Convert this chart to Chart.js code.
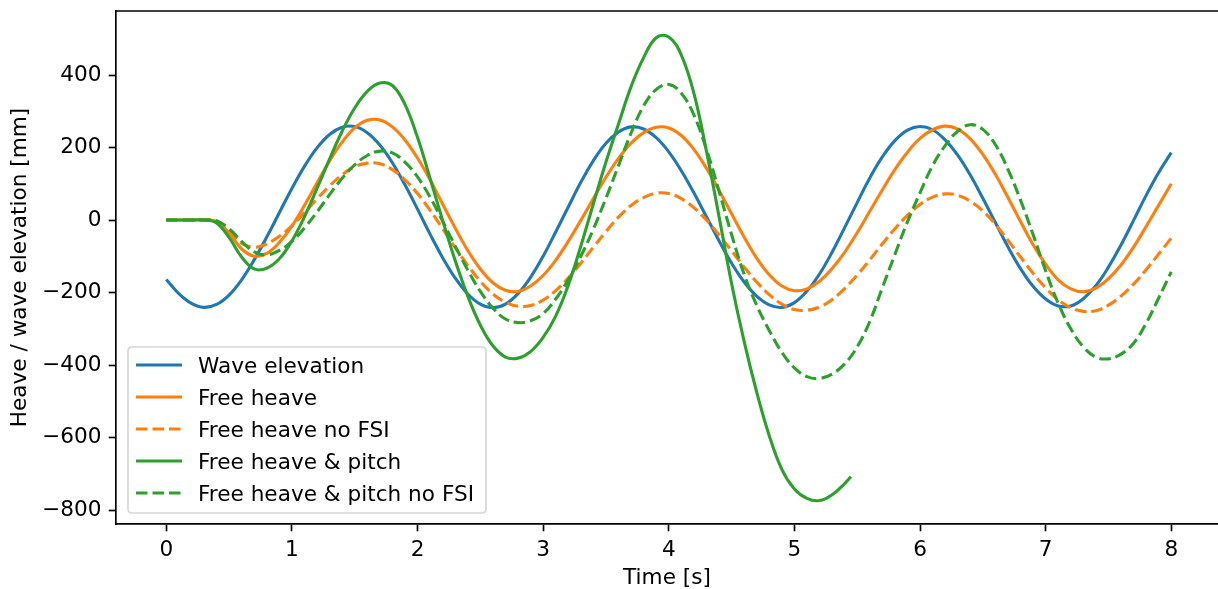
<!DOCTYPE html>
<html><head><meta charset="utf-8">
<script src="https://cdn.jsdelivr.net/npm/chart.js@4.4.1/dist/chart.umd.min.js"></script>
<style>
html,body{margin:0;padding:0;overflow:hidden;background:#fff;width:1218px;height:589px}
#wrap{position:absolute;left:0;top:0;width:1218px;height:589px}
</style>
</head><body><div id="wrap"><canvas id="c" width="1218" height="589"></canvas></div>
<script>
// ---- data ----
const time = [0,0.1,0.2,0.3,0.4,0.5,0.6,0.7,0.8,0.9,1,1.1,1.2,1.3,1.4,1.5,1.6,1.7,1.8,1.9,2,2.1,2.2,2.3,2.4,2.5,2.6,2.7,2.8,2.9,3,3.1,3.2,3.3,3.4,3.5,3.6,3.7,3.8,3.9,4,4.1,4.2,4.3,4.4,4.5,4.6,4.7,4.8,4.9,5,5.1,5.2,5.3,5.4,5.5,5.6,5.7,5.8,5.9,6,6.1,6.2,6.3,6.4,6.5,6.6,6.7,6.8,6.9,7,7.1,7.2,7.3,7.4,7.5,7.6,7.7,7.8,7.9,8];
const timeHeavePitch = [0,0.1,0.2,0.3,0.4,0.5,0.6,0.7,0.8,0.9,1,1.1,1.2,1.3,1.4,1.5,1.6,1.7,1.8,1.9,2,2.1,2.2,2.3,2.4,2.5,2.6,2.7,2.8,2.9,3,3.1,3.2,3.3,3.4,3.5,3.6,3.7,3.8,3.9,4,4.1,4.2,4.3,4.4,4.5,4.6,4.7,4.8,4.9,5,5.1,5.2,5.3,5.4,5.45];

const waveElevation = [-164,-203,-230,-241,-233,-207,-165,-110,-47,20,87,148,199,236,256,258,241,207,158,97,30,-39,-104,-160,-204,-232,-242,-232,-203,-158,-100,-33,36,104,164,212,243,257,251,227,188,136,75,9,-57,-119,-171,-210,-234,-241,-228,-196,-149,-89,-21,48,116,174,219,248,258,249,221,179,124,60,-7,-74,-134,-183,-218,-237,-237,-217,-181,-130,-69,-1,68,131,186];
const freeHeave = [0,0,0,0,-4,-36,-80,-100,-92,-62,-17,40,102,163,215,254,275,276,257,221,171,111,44,-22,-84,-135,-173,-194,-197,-182,-153,-111,-59,-1,59,118,170,212,241,256,254,233,195,143,82,17,-47,-105,-151,-182,-195,-190,-169,-134,-89,-35,24,83,139,187,225,249,259,251,224,181,126,62,-4,-68,-122,-165,-190,-198,-188,-162,-124,-75,-18,41,100];
const freeHeaveNoFSI = [0,0,0,0,-3,-30,-64,-75,-66,-45,-16,20,58,94,125,147,157,155,139,111,73,27,-24,-76,-125,-169,-204,-227,-238,-236,-221,-195,-160,-119,-75,-32,8,40,62,74,73,59,34,0,-41,-85,-130,-171,-206,-232,-247,-249,-240,-220,-189,-152,-110,-66,-24,13,43,63,72,68,52,25,-12,-56,-102,-147,-187,-220,-242,-252,-250,-235,-210,-177,-137,-94,-50];
const heavePitch = [0,0,0,0,-8,-48,-102,-135,-133,-107,-58,9,87,168,245,309,355,378,371,319,228,115,-1,-112,-210,-290,-347,-378,-381,-363,-324,-265,-180,-72,45,160,265,368,448,503,505,455,350,190,10,-175,-335,-475,-595,-688,-742,-768,-774,-758,-727,-708];
const heavePitchNoFSI = [0,0,0,0,-2,-24,-59,-88,-96,-84,-59,-22,22,70,115,152,178,190,185,160,119,63,-3,-72,-138,-197,-243,-273,-283,-278,-258,-218,-165,-100,-25,60,150,240,315,360,374,350,290,195,80,-40,-150,-235,-305,-365,-408,-432,-437,-425,-397,-350,-280,-187,-95,-5,75,150,205,245,263,250,208,140,55,-40,-140,-230,-300,-350,-378,-383,-370,-340,-285,-215,-143];

const seriesLabels = ['Wave elevation','Free heave','Free heave no FSI','Free heave & pitch','Free heave & pitch no FSI'];
const xTickValues = [0,1,2,3,4,5,6,7,8];
const yTickValues = [-800,-600,-400,-200,0,200,400];

// ---- styling ----
const FS = 21.6;
const FONT = 'DejaVu Sans';
const LW = 3.1;
const DASH = [11.5, 5];
const AXW = 1.67;
Chart.defaults.font.family = FONT;
Chart.defaults.font.size = FS;
Chart.defaults.color = '#000';

function pts(xs, ys){ return ys.map((v,i)=>({x:xs[i], y:v})); }
function ds(label, xs, ys, color, dashed, order){
  return {label, data: pts(xs, ys), borderColor: color, backgroundColor: color,
    borderWidth: LW, borderDash: dashed ? DASH : [], pointRadius: 0, pointHoverRadius: 0,
    tension: 0.4, fill: false, order, borderJoinStyle: 'round'};
}

const framePlugin = {
  id: 'frameTop',
  afterDatasetsDraw(chart){
    const {ctx, chartArea: a} = chart;
    ctx.save();
    ctx.strokeStyle = '#000'; ctx.lineWidth = AXW;
    ctx.beginPath(); ctx.moveTo(a.left - AXW/2, a.top); ctx.lineTo(a.right + 2, a.top); ctx.stroke();
    ctx.restore();
  }
};

const legendPlugin = {
  id: 'mplLegend',
  afterDraw(chart){
    const {ctx, chartArea: a} = chart;
    const list = chart.data.datasets;
    const x0 = a.left + 12, y1 = a.bottom - 11;
    const w = 358, h = 166, pitch = 32, r = 4;
    const y0 = y1 - h;
    ctx.save();
    ctx.beginPath();
    ctx.moveTo(x0 + r, y0);
    ctx.lineTo(x0 + w - r, y0); ctx.quadraticCurveTo(x0 + w, y0, x0 + w, y0 + r);
    ctx.lineTo(x0 + w, y0 + h - r); ctx.quadraticCurveTo(x0 + w, y0 + h, x0 + w - r, y0 + h);
    ctx.lineTo(x0 + r, y0 + h); ctx.quadraticCurveTo(x0, y0 + h, x0, y0 + h - r);
    ctx.lineTo(x0, y0 + r); ctx.quadraticCurveTo(x0, y0, x0 + r, y0);
    ctx.closePath();
    ctx.fillStyle = 'rgba(255,255,255,0.8)'; ctx.fill();
    ctx.strokeStyle = 'rgba(204,204,204,0.8)'; ctx.lineWidth = AXW; ctx.stroke();
    list.forEach((d, i) => {
      const y = y0 + 18 + i * pitch;
      ctx.strokeStyle = d.borderColor; ctx.lineWidth = d.borderWidth;
      ctx.setLineDash(d.borderDash || []);
      ctx.beginPath(); ctx.moveTo(x0 + 8, y); ctx.lineTo(x0 + 54, y); ctx.stroke();
      ctx.setLineDash([]);
      ctx.fillStyle = '#000'; ctx.font = FS + 'px "' + FONT + '"';
      ctx.textBaseline = 'alphabetic'; ctx.textAlign = 'left';
      ctx.fillText(d.label, x0 + 70, y + 0.365 * FS);
    });
    ctx.restore();
  }
};

function minusFmt(v){ return v < 0 ? '\u2212' + Math.abs(v) : String(v); }

new Chart(document.getElementById('c'), {
  type: 'line',
  data: {
    datasets: [
      ds(seriesLabels[0], time, waveElevation, '#1f77b4', false, 5),
      ds(seriesLabels[1], time, freeHeave, '#ff7f0e', false, 4),
      ds(seriesLabels[2], time, freeHeaveNoFSI, '#ff7f0e', true, 3),
      ds(seriesLabels[3], timeHeavePitch, heavePitch, '#2ca02c', false, 2),
      ds(seriesLabels[4], time, heavePitchNoFSI, '#2ca02c', true, 1)
    ]
  },
  options: {
    responsive: false, animation: false, devicePixelRatio: 1,
    layout: { padding: { top: 11, right: 0, left: 0, bottom: 0 } },
    plugins: { legend: { display: false }, tooltip: { enabled: false } },
    scales: {
      x: {
        type: 'linear', min: -0.4, max: 8.372,
        afterFit(s){ s.height = 65; s.paddingLeft = 0; s.paddingRight = 0; },
        afterBuildTicks(s){ s.ticks = xTickValues.map(v => ({value: v})); },
        ticks: { stepSize: 1, includeBounds: false, padding: 6, autoSkip: false, maxRotation: 0,
                 font: { size: FS, family: FONT }, color: '#000', callback: v => String(v) },
        grid: { display: true, drawOnChartArea: false, drawTicks: true, tickLength: 7.3,
                tickWidth: AXW, tickColor: '#000' },
        border: { display: true, color: '#000', width: AXW },
        title: { display: true, text: 'Time [s]', color: '#000',
                 font: { size: FS, family: FONT, lineHeight: 1 }, padding: { top: 0, bottom: 0 } }
      },
      y: {
        type: 'linear', min: -838.6, max: 576.6,
        afterFit(s){ s.width = 116; s.paddingTop = 0; s.paddingBottom = 0; },
        afterBuildTicks(s){ s.ticks = yTickValues.map(v => ({value: v})); },
        ticks: { stepSize: 200, includeBounds: false, padding: 7.3, autoSkip: false,
                 font: { size: FS, family: FONT }, color: '#000', callback: v => minusFmt(v) },
        grid: { display: true, drawOnChartArea: false, drawTicks: true, tickLength: 7.3,
                tickWidth: AXW, tickColor: '#000' },
        border: { display: true, color: '#000', width: AXW },
        title: { display: true, text: 'Heave / wave elevation [mm]', color: '#000',
                 font: { size: FS, family: FONT, lineHeight: 1 }, padding: { top: 10, bottom: 0 } }
      }
    }
  },
  plugins: [framePlugin, legendPlugin]
});
</script></body></html>
